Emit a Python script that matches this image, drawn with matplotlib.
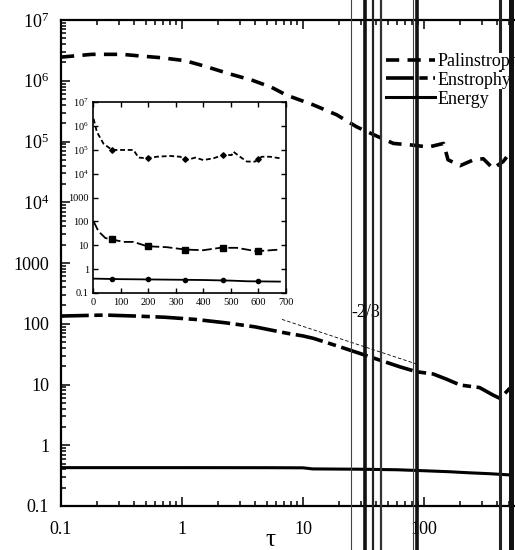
import numpy as np
import matplotlib
matplotlib.use('Agg')
import matplotlib.pyplot as plt
import matplotlib.transforms as mtransforms
from matplotlib.lines import Line2D
from matplotlib.ticker import LogLocator, FuncFormatter, FixedLocator, NullLocator, NullFormatter

plt.rcParams['font.family'] = ['Liberation Serif', 'DejaVu Serif']
plt.rcParams['mathtext.fontset'] = 'custom'
plt.rcParams['mathtext.rm'] = 'Liberation Serif'
plt.rcParams['mathtext.it'] = 'Liberation Serif:italic'
plt.rcParams['lines.scale_dashes'] = False

# ---------------- data (main panel, log-log) ----------------
pal_t = [0.1, 0.18, 0.32, 0.46, 0.68, 1.06, 1.6, 2.4, 3.8, 5.5, 7.3, 12.2, 19, 27.8,
         40.6, 55.8, 81.7, 109, 145, 158, 199, 257, 309, 372, 452, 513]
pal_v = [2.45e6, 2.72e6, 2.72e6, 2.55e6, 2.39e6, 2.14e6, 1.70e6, 1.32e6, 1.02e6, 7.8e5,
         5.8e5, 4.0e5, 2.75e5, 1.74e5, 1.23e5, 9.3e4, 8.7e4, 8.1e4, 9.3e4, 5.0e4,
         4.0e4, 5.0e4, 5.2e4, 3.6e4, 4.7e4, 6.5e4]

ens_t = [0.1, 0.23, 0.41, 0.72, 1.28, 2.26, 4.0, 7.3, 10, 12.2, 20.2, 29.6, 43.3, 63.4,
         87.1, 119, 154, 199, 288, 372, 425, 513]
ens_v = [134, 139, 134, 128, 118, 104, 89, 70, 63, 57.5, 41.7, 32.4, 25.1, 19.5,
         16.2, 14.9, 12.2, 9.8, 8.9, 6.7, 5.9, 8.7]

en_t = [0.1, 1, 5, 10, 12, 30, 60, 95, 160, 230, 350, 520]
en_v = [0.428, 0.428, 0.427, 0.425, 0.408, 0.403, 0.395, 0.382, 0.367, 0.353, 0.34, 0.324]

slope_t = [6.7, 87]
slope_v = [118, 21.7]
slope_label = '-2/3'
slope_label_pos = (33, 155)

labels = ['Palinstrophy', 'Enstrophy', 'Energy']

# ---------------- data (inset, linear t) ----------------
in_pal_t = [2, 14, 38, 69, 111, 147, 165, 196, 232, 280, 316, 340, 371, 400, 437, 473,
            503, 509, 533, 558, 588, 612, 642, 678]
in_pal_v = [2.0e6, 5.6e5, 1.8e5, 9.8e4, 9.8e4, 9.8e4, 4.7e4, 4.4e4, 5.1e4, 5.5e4, 5.1e4,
            3.7e4, 4.7e4, 3.7e4, 4.4e4, 6.0e4, 6.0e4, 8.3e4, 5.1e4, 3.2e4, 3.2e4, 5.1e4,
            5.1e4, 4.4e4]
in_ens_t = [2, 20, 45, 69, 111, 147, 196, 268, 334, 400, 461, 521, 594, 678]
in_ens_v = [100, 38, 20, 17.4, 13.8, 13.8, 9.1, 8.3, 6.6, 6.2, 7.8, 7.8, 5.6, 6.6]
in_en_t = [2, 100, 200, 300, 400, 500, 560, 678]
in_en_v = [0.40, 0.38, 0.37, 0.36, 0.35, 0.33, 0.31, 0.30]
in_marker_t = [68, 200, 335, 470, 600]

# vertical rule artefacts (x in data units of main axes)
vline_x = [24.7, 32.5, 37.9, 44.2, 81.7, 88.3, 421, 524]
vline_w = [0.8, 2.6, 1.6, 1.6, 0.8, 2.6, 2.2, 3.6]
vline_c = ['#444444', '#111111', '#222222', '#333333', '#444444', '#111111', '#222222', '#111111']

# ---------------- figure ----------------
fig = plt.figure(figsize=(5.15, 5.5), dpi=100)
W, H = 515.0, 550.0
ax = fig.add_axes([61 / W, 44 / H, 484 / W, 486 / H])
ax.set_xscale('log')
ax.set_yscale('log')

l1, = ax.plot(pal_t, pal_v, color='black', lw=2.6, dashes=(9.5, 6.0), dash_capstyle='butt')
l2, = ax.plot(ens_t, ens_v, color='black', lw=2.6, dashes=(20, 4, 6, 4), dash_capstyle='butt')
l3, = ax.plot(en_t, en_v, color='black', lw=2.2)
ax.plot(slope_t, slope_v, color='black', lw=0.6, dashes=(2.5, 1.5))
ax.text(slope_label_pos[0], slope_label_pos[1], slope_label, fontsize=13,
        ha='center', va='center')

ax.set_xlim(0.1, 1000)
ax.set_ylim(0.1, 1e7)

for s in ax.spines.values():
    s.set_linewidth(1.6)

ax.xaxis.set_major_locator(LogLocator(base=10, numticks=100))
ax.yaxis.set_major_locator(LogLocator(base=10, numticks=100))
ax.xaxis.set_minor_locator(LogLocator(base=10, subs=np.arange(2, 10), numticks=100))
ax.yaxis.set_minor_locator(LogLocator(base=10, subs=np.arange(2, 10), numticks=100))
ax.xaxis.set_minor_formatter(NullFormatter())
ax.yaxis.set_minor_formatter(NullFormatter())


def yfmt(v, pos):
    e = int(round(np.log10(v)))
    if e >= 4:
        return r'$10^{%d}$' % e
    if e >= 0:
        return '%d' % round(v)
    return '0.1'


def xfmt(v, pos):
    e = int(round(np.log10(v)))
    if e >= 3:
        return ''
    if e >= 0:
        return '%d' % round(v)
    return '0.1'


ax.yaxis.set_major_formatter(FuncFormatter(yfmt))
ax.xaxis.set_major_formatter(FuncFormatter(xfmt))
ax.tick_params(which='both', direction='in', top=True, right=True, width=1.1)
ax.tick_params(which='major', length=6.5)
ax.tick_params(which='minor', length=3.5)
ax.tick_params(axis='x', which='major', labelsize=13, pad=10.5)
ax.tick_params(axis='y', which='major', labelsize=13, pad=8.5)

ax.set_xlabel('τ', fontsize=18)
ax.xaxis.set_label_coords((270 - 61) / 484, (506 - 529) / 486)

leg = ax.legend([l1, l2, l3], labels, loc='upper left',
                bbox_to_anchor=((386 - 61) / 484, 1 - (53 - 20) / 486),
                frameon=False, fontsize=13, borderpad=0, borderaxespad=0,
                handlelength=2.7, handletextpad=0.17, labelspacing=0.1)
for t in leg.get_texts():
    t.set_bbox(dict(facecolor='white', edgecolor='none', pad=0))
leg.set_zorder(5)

trans = mtransforms.blended_transform_factory(ax.transData, fig.transFigure)
for i, (x, w, c) in enumerate(zip(vline_x, vline_w, vline_c)):
    ln = Line2D([x, x], [0, 1], transform=trans, color=c, lw=w, clip_on=False,
                zorder=6 if i == len(vline_x) - 1 else 4.5)
    ax.add_artist(ln)

# ---------------- inset ----------------
ax2 = fig.add_axes([93 / W, (H - 293) / H, 193 / W, 191 / H])
ax2.set_yscale('log')
ax2.plot(in_pal_t, in_pal_v, color='black', lw=1.3, dashes=(3.5, 2.0))
ax2.plot(in_ens_t, in_ens_v, color='black', lw=1.3, dashes=(7, 2.5))
ax2.plot(in_en_t, in_en_v, color='black', lw=1.3)


def logi(tq, t, v):
    return np.exp(np.interp(tq, t, np.log(v)))


ax2.plot(in_marker_t, logi(in_marker_t, in_pal_t, in_pal_v), ls='none', marker='D',
         ms=2.8, color='black')
ax2.plot(in_marker_t, logi(in_marker_t, in_ens_t, in_ens_v), ls='none', marker='s',
         ms=4.0, color='black')
ax2.plot(in_marker_t, logi(in_marker_t, in_en_t, in_en_v), ls='none', marker='o',
         ms=3.0, color='black')

ax2.set_xlim(0, 700)
ax2.set_ylim(0.1, 1e7)
for s in ax2.spines.values():
    s.set_linewidth(1.2)
ax2.xaxis.set_major_locator(FixedLocator(list(range(0, 701, 100))))
ax2.yaxis.set_major_locator(LogLocator(base=10, numticks=100))
ax2.yaxis.set_minor_locator(NullLocator())
ax2.yaxis.set_major_formatter(FuncFormatter(yfmt))
ax2.tick_params(which='both', direction='in', top=True, right=True, width=1.0, length=3.5)
ax2.tick_params(axis='x', labelsize=7.5, pad=3.5)
ax2.tick_params(axis='y', labelsize=7.5, pad=3)

fig.savefig('out.png', dpi=100)
